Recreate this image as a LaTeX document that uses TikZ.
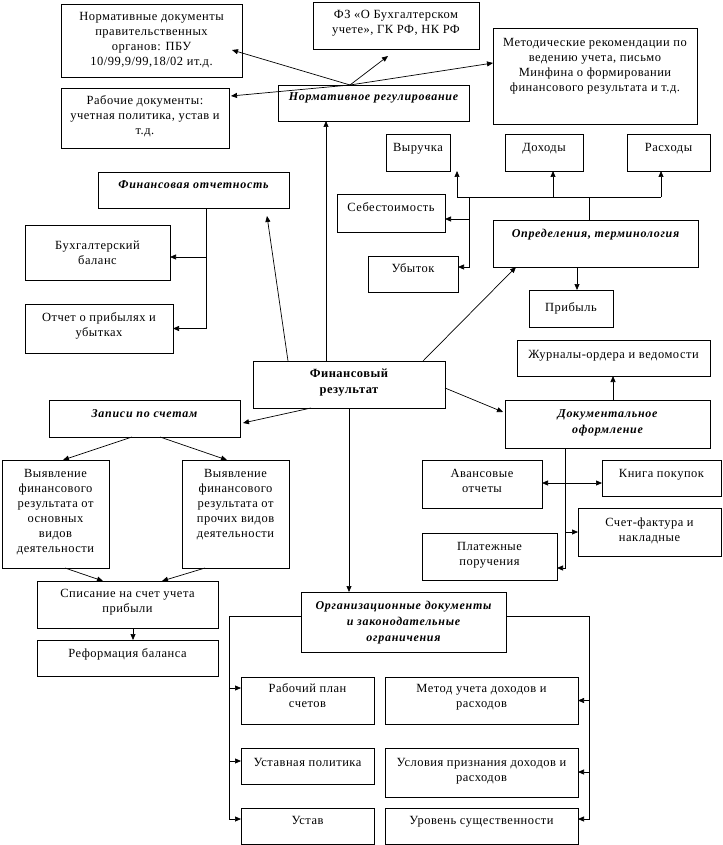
\documentclass[tikz,border=0pt]{standalone}
\usepackage{fontspec}
\setmainfont{Liberation Serif}
\usetikzlibrary{arrows.meta,calc}
\newcommand\TF[2][17]{\hbox to\linewidth{\hss\rule{0pt}{#1pt}#2\hss}}
\newcommand\TL[1]{\hbox to\linewidth{\hss#1\hss}}
\newcommand\nfont{\fontsize{12.5}{15}\selectfont\addfontfeatures{LetterSpace=4}}
\newcommand\hfont{\fontsize{12}{16}\selectfont\bfseries\itshape\addfontfeatures{LetterSpace=6}}
\newcommand\ffont{\fontsize{12.5}{16}\selectfont\bfseries\addfontfeatures{LetterSpace=4}}
\newcommand\bx[6]{\node[bxst, anchor=north west] (#1) at (#2,#3) {\parbox[c][\dimexpr#5pt-#3pt\relax][t]{\dimexpr#4pt-#2pt\relax}{\nfont#6}};}
\begin{document}
\begin{tikzpicture}[x=1pt,y=-1pt,
  bxst/.style={draw,line width=0.8pt,inner sep=0pt,outer sep=0pt},
  arr/.style={line width=0.7pt,-{Triangle[length=6pt,width=5pt]}},
  arrb/.style={line width=0.7pt,{Triangle[length=6pt,width=5pt]}-{Triangle[length=6pt,width=5pt]}},
  ln/.style={line width=0.7pt}]
\fill[white] (0,0) rectangle (722,845);
\useasboundingbox (0,0) rectangle (722,845);
% boxes
\bx{nd}{61}{4}{242}{77}{\TF{Нормативные документы}\TL{правительственных}\TL{органов: ПБУ}\TL{10/99,9/99,18/02 ит.д.}}
\bx{fz}{313}{2}{479}{49}{\TF{ФЗ «О Бухгалтерском}\TL{учете», ГК РФ, НК РФ}}
\bx{mr}{493}{28}{697}{124}{\TF[19]{Методические рекомендации по}\TL{ведению учета, письмо}\TL{Минфина о формировании}\TL{финансового результата и т.д.}}
\bx{rd}{61}{88}{229}{148}{\TF{Рабочие документы:}\TL{учетная политика, устав и}\TL{т.д.}}
\bx{nr}{278}{85}{469}{121}{\hfont\TF[16]{Нормативное регулирование}}
\bx{vy}{386}{134}{450}{171}{\TF[18]{Выручка}}
\bx{dh}{505}{134}{583}{171}{\TF[18]{Доходы}}
\bx{rs}{627}{134}{710}{171}{\TF[18]{Расходы}}
\bx{fo}{98}{172}{289}{208}{\hfont\TF[16]{Финансовая отчетность}}
\bx{sb}{337}{194}{445}{232}{\TF{Себестоимость}}
\bx{op}{493}{220}{698}{267}{\hfont\TF[17]{Определения, терминология}}
\bx{bb}{25}{225}{170}{280}{\TF[24]{Бухгалтерский}\TL{баланс}}
\bx{ub}{368}{256}{458}{292}{\TF[16]{Убыток}}
\bx{pr}{529}{290}{613}{327}{\TF[21]{Прибыль}}
\bx{ou}{25}{304}{173}{353}{\TF{Отчет о прибылях и}\TL{убытках}}
\bx{zh}{517}{340}{710}{376}{\TF[18]{Журналы-ордера и ведомости}}
\bx{fr}{253}{361}{445}{408}{\ffont\TF[16]{Финансовый}\TL{результат}}
\bx{zs}{49}{400}{240}{437}{\hfont\TF[17]{Записи по счетам}}
\bx{do}{505}{400}{710}{448}{\hfont\TF[17]{Документальное}\TL{оформление}}
\bx{v1}{2}{460}{109}{568}{\TF{Выявление}\TL{финансового}\TL{результата от}\TL{основных}\TL{видов}\TL{деятельности}}
\bx{v2}{182}{460}{289}{568}{\TF{Выявление}\TL{финансового}\TL{результата от}\TL{прочих видов}\TL{деятельности}}
\bx{av}{422}{460}{542}{508}{\TF{Авансовые}\TL{отчеты}}
\bx{kp}{602}{460}{721}{496}{\TF{Книга покупок}}
\bx{sf}{578}{508}{721}{556}{\TF[18]{Счет-фактура и}\TL{накладные}}
\bx{pp}{422}{533}{557}{580}{\TF{Платежные}\TL{поручения}}
\bx{sp}{37}{581}{218}{628}{\TF[16]{Списание на счет учета}\TL{прибыли}}
\bx{og}{301}{592}{506}{652}{\hfont\TF[17]{Организационные документы}\TL{и законодательные}\TL{ограничения}}
\bx{rf}{37}{640}{218}{676}{\TF{Реформация баланса}}
\bx{rp}{241}{677}{374}{724}{\TF[15]{Рабочий план}\TL{счетов}}
\bx{mu}{385}{677}{578}{724}{\TF[15]{Метод учета доходов и}\TL{расходов}}
\bx{up}{241}{748}{374}{784}{\TF[18]{Уставная политика}}
\bx{us}{385}{748}{578}{797}{\TF[18]{Условия признания доходов и}\TL{расходов}}
\bx{ut}{241}{808}{374}{844}{\TF[16]{Устав}}
\bx{ur}{385}{808}{578}{844}{\TF[16]{Уровень существенности}}
% Нормативное регулирование
\coordinate (nrt) at ($(nr.north west)+(72,0)$);
\draw[arr] (nrt) -- ($(nd.north east)+(-10,46)$);
\draw[arr] (nrt) -- ($(fz.south west)+(75,7)$);
\draw[arr] (nrt) -- ($(mr.north west)+(0,35)$);
\draw[arr] (nrt) -- ($(rd.north east)+(2,8)$);
% Финансовый результат
\draw[arr] ($(fr.north west)+(73,0)$) -- ($(nr.south west)+(48,0)$);
\draw[arr] ($(fr.north west)+(35,0)$) -- ($(fo.south east)+(-22,8)$);
\draw[arr] ($(fr.north east)+(-22,0)$) -- ($(op.south west)+(23,0)$);
\draw[arr] ($(fr.south west)+(58,0)$) -- ($(zs.south east)+(3,-14)$);
\draw[arr] ($(fr.north east)+(0,27)$) -- ($(do.north west)+(-2,12)$);
\draw[arr] ($(fr.south west)+(96,0)$) -- ($(og.north west)+(48,0)$);
% Финансовая отчетность
\coordinate (fj) at ($(fo.south west)+(108,0)$);
\coordinate (bbp) at ($(bb.north east)+(0,32)$);
\draw[arr] (fj) |- (ou.east);
\draw[arr] (fj |- bbp) -- (bbp);
% Записи по счетам
\draw[arr] ($(zs.south west)+(83,0)$) -- ($(v1.north west)+(61,0)$);
\draw[arr] ($(zs.south west)+(111,0)$) -- ($(v2.north west)+(45,0)$);
\draw[arr] ($(v1.south west)+(63,0)$) -- ($(sp.north west)+(66,0)$);
\draw[arr] ($(v2.south west)+(23,0)$) -- ($(sp.north west)+(125,0)$);
\draw[arr] ($(sp.south west)+(96,0)$) -- ($(rf.north west)+(96,0)$);
% Определения
\coordinate (oj) at ($(op.north west)+(96,-23)$);
\coordinate (vyp) at ($(vy.south east)+(7,0)$);
\coordinate (dhp) at ($(dh.south west)+(48,0)$);
\coordinate (rsp) at ($(rs.south west)+(34,0)$);
\coordinate (sbp) at ($(sb.north east)+(0,25)$);
\coordinate (ubp) at ($(ub.north east)+(0,11)$);
\coordinate (vj) at ($(ub.north east)+(11,0)$);
\coordinate (opp) at ($(op.south west)+(84,0)$);
\draw[ln] ($(op.north west)+(96,0)$) -- (oj);
\draw[ln] (vyp |- oj) -- (rsp |- oj);
\draw[arr] (vyp |- oj) -- (vyp);
\draw[arr] (dhp |- oj) -- (dhp);
\draw[arr] (rsp |- oj) -- (rsp);
\draw[arr] (vj |- oj) |- (ubp);
\draw[arr] (vj |- sbp) -- (sbp);
\draw[arr] (opp) -- (opp |- pr.north);
% Документальное оформление
\coordinate (djt) at ($(do.north west)+(108,0)$);
\coordinate (dj) at ($(do.south west)+(60,0)$);
\coordinate (ppp) at ($(pp.north east)+(0,35)$);
\draw[arr] (djt) -- (djt |- zh.south);
\draw[arr] (dj) |- (ppp);
\draw[arr] (dj |- sf.west) -- (sf.west);
\draw[arrb] ($(av.north east)+(0,23)$) -- ($(kp.north west)+(0,23)$);
% Организационные документы
\coordinate (ogl) at ($(og.north west)+(-72,24)$);
\coordinate (ogr) at ($(og.north east)+(83,24)$);
\coordinate (rpp) at ($(rp.north west)+(0,11)$);
\coordinate (upp) at ($(up.north west)+(0,13)$);
\coordinate (utp) at ($(ut.north west)+(0,11)$);
\coordinate (mup) at (mu.east);
\coordinate (usp) at ($(us.north east)+(0,24)$);
\coordinate (urp) at ($(ur.north east)+(0,11)$);
\draw[arr] ($(og.north west)+(0,24)$) -- (ogl) |- (utp);
\draw[arr] (ogl |- rpp) -- (rpp);
\draw[arr] (ogl |- upp) -- (upp);
\draw[arr] ($(og.north east)+(0,24)$) -- (ogr) |- (urp);
\draw[arr] (ogr |- mup) -- (mup);
\draw[arr] (ogr |- usp) -- (usp);
\end{tikzpicture}
\end{document}
